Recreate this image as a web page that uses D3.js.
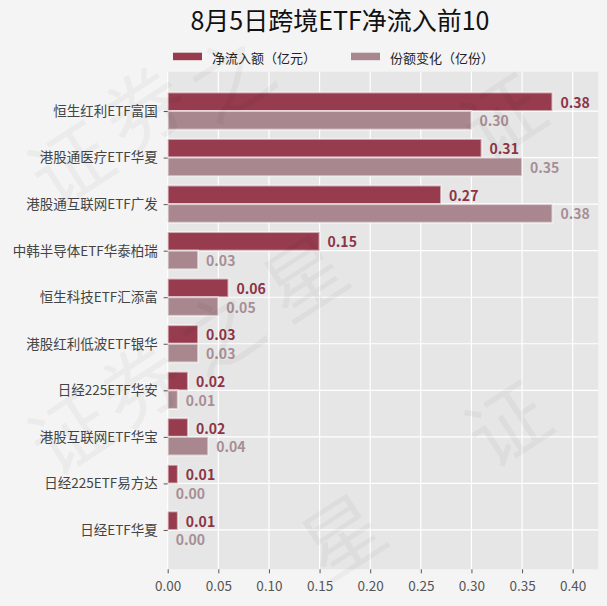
<!DOCTYPE html>
<html lang="zh-cn">
<head>
<meta charset="utf-8">
<script src="https://cdn.jsdelivr.net/npm/d3@7"></script>
<style>
  html, body { margin: 0; padding: 0; background: #f4f4f4; }
  svg { display: block; font-family: "Noto Sans CJK SC", "Noto Sans", sans-serif; }
</style>
</head>
<body>
<div id="chart"></div>
<script>
"use strict";

// dados
var names = ["恒生红利ETF富国", "港股通医疗ETF华夏", "港股通互联网ETF广发", "中韩半导体ETF华泰柏瑞",
  "恒生科技ETF汇添富", "港股红利低波ETF银华", "日经225ETF华安", "港股互联网ETF华宝",
  "日经225ETF易方达", "日经ETF华夏"];
var netFlow = [0.38, 0.31, 0.27, 0.15, 0.06, 0.03, 0.02, 0.02, 0.01, 0.01];
var shareChange = [0.30, 0.35, 0.38, 0.03, 0.05, 0.03, 0.01, 0.04, 0.00, 0.00];
var xTicks = [0, 0.05, 0.10, 0.15, 0.20, 0.25, 0.30, 0.35, 0.40];
var seriesNames = ["净流入额（亿元）", "份额变化（亿份）"];

var W = 607, H = 606;
var pLeft = 167.7, pRight = 598.3, pTop = 71.7, pBottom = 569.3;
var corEscuro = "#963c4e", corClaro = "#a8878f";
var txtEscuro = "#8c3446", txtClaro = "#a78e96";

var svg = d3.select("#chart").append("svg")
  .attr("width", W).attr("height", H);

svg.append("rect").attr("width", W).attr("height", H).attr("fill", "#f4f4f4");

var x = d3.scaleLinear().domain([0, 0.4253]).range([pLeft, pRight]);
var y = d3.scalePoint().domain(names).range([pTop, pBottom]).padding(0.845);
var h = y.step() * 0.4;

// painel
svg.append("rect")
  .attr("x", pLeft).attr("y", pTop)
  .attr("width", pRight - pLeft).attr("height", pBottom - pTop)
  .attr("fill", "#e6e6e6");

// grade
svg.append("g").selectAll("line").data(xTicks).enter().append("line")
  .attr("x1", d => x(d)).attr("x2", d => x(d))
  .attr("y1", pTop).attr("y2", pBottom)
  .attr("stroke", "#fff").attr("stroke-width", 1.2);

svg.append("g").selectAll("line").data(names).enter().append("line")
  .attr("x1", pLeft).attr("x2", pRight)
  .attr("y1", d => y(d)).attr("y2", d => y(d))
  .attr("stroke", "#fff").attr("stroke-width", 1.2);

// barras
var linhas = names.map((n, i) => ({ name: n, a: netFlow[i], b: shareChange[i] }));

svg.append("g").selectAll("rect").data(linhas).enter().append("rect")
  .attr("x", x(0)).attr("y", d => y(d.name) - h)
  .attr("width", d => x(d.a) - x(0)).attr("height", h)
  .attr("fill", corEscuro)
  .attr("stroke", "#fff").attr("stroke-width", 2).attr("stroke-opacity", 0.55);

svg.append("g").selectAll("rect").data(linhas).enter().append("rect")
  .attr("x", x(0)).attr("y", d => y(d.name))
  .attr("width", d => x(d.b) - x(0)).attr("height", h)
  .attr("fill", corClaro)
  .attr("stroke", "#fff").attr("stroke-width", 2).attr("stroke-opacity", 0.55);

// rotulos
var fmt = d3.format(".2f");
svg.append("g").selectAll("text").data(linhas).enter().append("text")
  .attr("x", d => x(d.a) + 8).attr("y", d => y(d.name) - h / 2)
  .attr("dominant-baseline", "central")
  .attr("font-size", 14).attr("font-weight", "bold")
  .attr("fill", txtEscuro)
  .text(d => fmt(d.a));

svg.append("g").selectAll("text").data(linhas).enter().append("text")
  .attr("x", d => x(d.b) + 8).attr("y", d => y(d.name) + h / 2)
  .attr("dominant-baseline", "central")
  .attr("font-size", 14).attr("font-weight", "bold")
  .attr("fill", txtClaro)
  .text(d => fmt(d.b));

// eixos
var eixoX = svg.append("g")
  .attr("transform", "translate(0," + pBottom + ")")
  .call(d3.axisBottom(x).tickValues(xTicks).tickFormat(fmt).tickSize(4).tickPadding(8));
eixoX.select(".domain").remove();
eixoX.selectAll("line").attr("stroke", "#555");
eixoX.selectAll("text").attr("font-size", 13.5).attr("fill", "#555")
  .attr("font-family", "'Noto Sans CJK SC', sans-serif");

var eixoY = svg.append("g")
  .attr("transform", "translate(" + pLeft + ",0)")
  .call(d3.axisLeft(y).tickSize(4).tickPadding(6));
eixoY.select(".domain").remove();
eixoY.selectAll("line").attr("stroke", "#555");
eixoY.selectAll("text").attr("font-size", 13.5).attr("fill", "#444")
  .attr("font-family", "'Noto Sans CJK SC', sans-serif");

// titulo
svg.append("text")
  .attr("x", 340).attr("y", 30)
  .attr("text-anchor", "middle")
  .attr("font-size", 25).attr("fill", "#111")
  .text("8月5日跨境ETF净流入前10");

// legenda
var legX = [173, 351];
var leg = svg.append("g").selectAll("g").data(seriesNames).enter().append("g")
  .attr("transform", (d, i) => "translate(" + legX[i] + ",0)");
leg.append("rect")
  .attr("x", 0).attr("y", 52.7).attr("width", 29).attr("height", 7.5)
  .attr("fill", (d, i) => i === 0 ? corEscuro : corClaro);
leg.append("text")
  .attr("x", 39).attr("y", 57.5)
  .attr("dominant-baseline", "central")
  .attr("font-size", 13).attr("fill", "#222")
  .text(d => d);

// marca d'agua (so os caracteres que cabem na imagem)
var marcas = [
  ["证", 68, 160], ["券", 142, 104], ["之", 228, 74],
  ["证", 68, 428], ["券", 138, 380], ["之", 218, 328], ["星", 302, 273],
  ["证", 500, 112], ["证", 505, 420], ["星", 340, 532]
];
svg.append("g").attr("pointer-events", "none")
  .selectAll("text").data(marcas).enter().append("text")
  .attr("transform", d => "translate(" + d[1] + "," + d[2] + ") rotate(-33)")
  .attr("text-anchor", "middle")
  .attr("dominant-baseline", "central")
  .attr("font-size", 80)
  .attr("fill", "#000").attr("fill-opacity", 0.035)
  .text(d => d[0]);
</script>
</body>
</html>
